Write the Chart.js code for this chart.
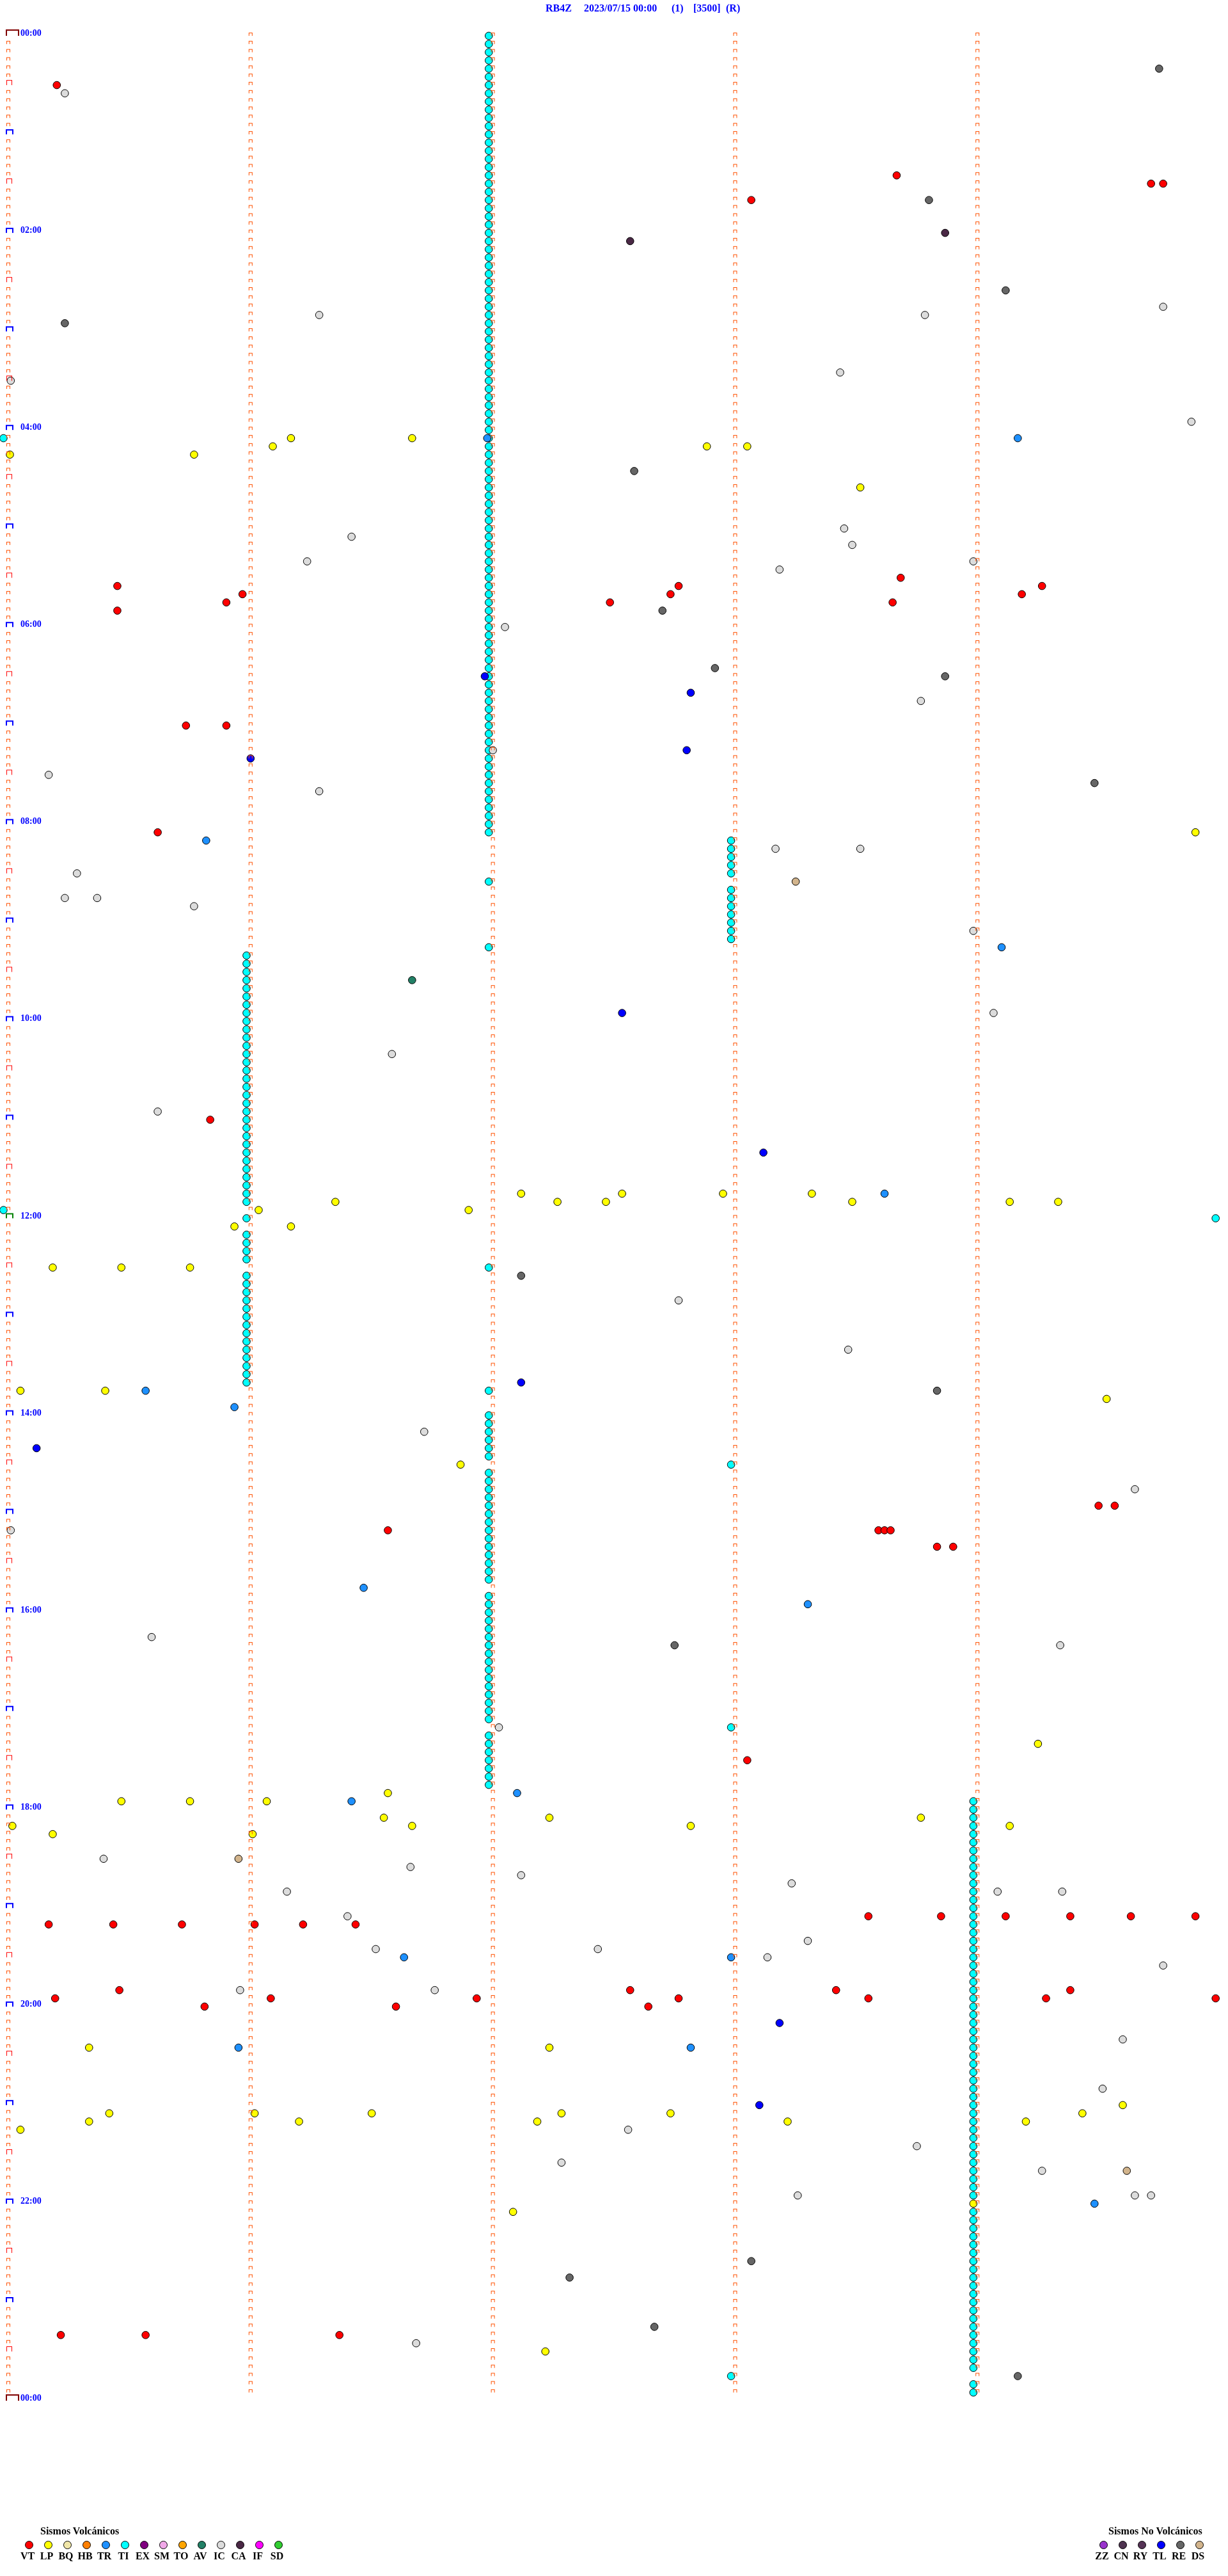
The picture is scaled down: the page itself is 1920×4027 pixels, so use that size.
<!DOCTYPE html>
<html>
<head>
<meta charset="utf-8">
<title>RB4Z 2023/07/15</title>
<script src="https://cdn.jsdelivr.net/npm/chart.js@4.4.1/dist/chart.umd.min.js"></script>
<style>
  body { margin: 0; background: #fff; }
  #wrap { position: relative; width: 1920px; height: 4027px; overflow: hidden; }
  #heli { position: absolute; left: 0; top: 0; }
  .ttl { position: absolute; top: 5px; font: bold 16px "Times New Roman", "Liberation Serif", serif; line-height: 16px; color: #0000ff; white-space: pre; }
  .lg-title { position: absolute; font: bold 16px "Times New Roman", "Liberation Serif", serif; line-height: 16px; color: #000; white-space: pre; }
  .lg-dot { position: absolute; width: 11px; height: 11px; border: 1px solid #000; border-radius: 50%; }
  .lg-lab { position: absolute; width: 40px; text-align: center; font: bold 16px "Times New Roman", "Liberation Serif", serif; line-height: 16px; color: #000; }
</style>
</head>
<body>
<div id="wrap">
  <canvas id="heli" width="1920" height="4027"></canvas>
  <span class="ttl" style="left:853px">RB4Z</span>
  <span class="ttl" style="left:913px">2023/07/15 00:00</span>
  <span class="ttl" style="left:1050px">(1)</span>
  <span class="ttl" style="left:1084px">[3500]</span>
  <span class="ttl" style="left:1135px">(R)</span>
  <div class="lg-title" style="left:63px;top:3949px">Sismos Volcánicos</div>
  <div class="lg-title" style="left:1733px;top:3949px">Sismos No Volcánicos</div>
</div>
<script>
// helicorder: 288 lines of 5 minutes each, x = seconds into the line
const ROWS = 288;
const MARK_SECS = [0, 60, 120, 180, 240];
const LABEL_ROWS = [0, 24, 48, 72, 96, 120, 144, 168, 192, 216, 240, 264, 288];
const LABELS = ["00:00", "02:00", "04:00", "06:00", "08:00", "10:00", "12:00",
                "14:00", "16:00", "18:00", "20:00", "22:00", "00:00"];

// events as [line, seconds]
const VT = [[6,12],[17,220],[18,283],[18,286],[20,184],
  [66,221],[67,27],[67,166],[67,256],[68,58],[68,164],[68,251],[69,54],[69,149],[69,219],[70,27],
  [84,44],[84,54],[97,37],[132,50],
  [179,270],[179,274],[182,94],[182,215.5],[182,217],[182,218.5],[184,230],[184,234],[210,183],
  [229,213],[229,231],[229,247],[229,263],[229,278],[229,294],
  [230,10],[230,26],[230,43],[230,61],[230,73],[230,86],
  [238,27.5],[238,154],[238,205],[238,263],
  [239,11.6],[239,65],[239,116],[239,166],[239,213],[239,257],[239,299],
  [240,48.6],[240,96],[240,158.5],
  [280,13],[280,34],[280,82]];
const LP = [[49,70],[49,100],[50,65.5],[50,173],[50,183],[51,0.4],[51,46],[55,211],[97,294],
  [141,127],[141,152],[141,177],[141,199],
  [142,81],[142,136],[142,148],[142,209],[142,248],[142,260],
  [143,62],[143,114],[145,56],[145,70],[150,11],[150,28],[150,45],
  [165,3],[165,24],[166,272],[174,112],
  [208,255],[214,94],[215,28],[215,45],[215,64],
  [217,93],[217,134],[217,226],[218,1],[218,100],[218,169],[218,248],[219,11],[219,60.5],
  [245,20],[245,134],[252,276],
  [253,25],[253,61],[253,90],[253,137],[253,164],[253,266],
  [254,20],[254,72],[254,131],[254,193],[254,252],[255,3],
  [264,239],[265,125],[282,133]];
const TR = [[49,118.6],[49,250],[98,49],[111,246],[141,217],[165,34],[167,56],[189,88],[191,198],
  [214,126],[215,85],[234,98],[234,179],[245,57],[245,169],[264,269]];
const AV = [[115,100]];
const IC = [[7,14],[33,286],[34,227],[34,77],[41,206],[42,0.6],[47,293],
  [60,207],[61,85],[62,209],[64,74],[64,239],[65,191],[72,123],[81,226],[87,120],[90,10],[92,77],
  [99,190],[99,211],[102,17],[105,14],[105,22],[106,46],[109,239],
  [119,244],[124,95],[131,37],[154,166],[160,208],[170,103],[177,279],[182,0.6],
  [195,35.5],[196,260.5],[206,121.5],
  [222,23.6],[223,99.6],[224,127],[225,194],[226,69],[226,245],[226,261],
  [229,84],[232,198],[233,91],[233,146],[234,188],[235,286],[238,57.4],[238,105.6],
  [244,276],[250,271],[255,153.5],[257,225],[259,137],[260,256],[263,195.5],[263,279],[263,283],
  [281,101]];
const CA = [[24,232],[25,154]];
const TL = [[78,118],[80,169],[87,168],[88,60],[119,152],[136,187],[164,127],[172,7],[242,191],[252,186]];
const RE = [[4,285],[20,228],[31,247],[35,14],[53,155],[70,162],[77,175],[78,232],[91,269],
  [151,127],[165,230],[196,165],[271,184],[273,139],[279,160],[285,250]];
const DS = [[103,195],[222,57],[260,277]];

// tremor (TI) lines, grouped by the second where each run sits
const TI_A_SEC = 119;
const TI_A_ROWS = [0,1,2,3,4,5,6,7,8,9,10,11,12,13,14,15,16,17,18,19,20,21,22,23,24,25,26,27,28,29,
  30,31,32,33,34,35,36,37,38,39,40,41,42,43,44,45,46,47,48,49,50,51,52,53,54,55,56,57,58,59,
  60,61,62,63,64,65,66,67,68,69,70,71,72,73,74,75,76,77,78,79,80,81,82,83,84,85,86,87,88,89,
  90,91,92,93,94,95,96,97,103,111,150,165,168,169,170,171,172,173,
  175,176,177,178,179,180,181,182,183,184,185,186,187,188,
  190,191,192,193,194,195,196,197,198,199,200,201,202,203,204,205,207,208,209,210,211,212,213];
const TI_B_SEC = 59;
const TI_B_ROWS = [112,113,114,115,116,117,118,119,120,121,122,123,124,125,126,127,128,129,130,
  131,132,133,134,135,136,137,138,139,140,141,142,144,146,147,148,149,
  151,152,153,154,155,156,157,158,159,160,161,162,163,164];
const TI_C_SEC = 179;
const TI_C_ROWS = [98,99,100,101,102,104,105,106,107,108,109,110,174,206,285];
const TI_D_SEC = 239;
const TI_D_ROWS = [215,216,217,218,219,220,221,222,223,224,225,226,227,228,229,230,231,232,233,
  234,235,236,237,238,239,240,241,242,243,244,245,246,247,248,249,250,251,252,253,254,255,256,
  257,258,259,260,261,262,263,265,266,267,268,269,270,271,272,273,274,275,276,277,278,279,280,
  281,282,283,284,286,287];
const TI_EDGE = [[49,-1.2],[143,-1.2],[144,299]];

const VOLC_CODES = ["VT","LP","BQ","HB","TR","TI","EX","SM","TO","AV","IC","CA","IF","SD"];
const VOLC_COLORS = ["#FF0000","#FFFF00","#F0E6A8","#FF8000","#1E90FF","#00FFFF","#800080",
                     "#F0A8E8","#FFA500","#228066","#DCDCDC","#4A2845","#FF00FF","#32CD32"];
const NONV_CODES = ["ZZ","CN","RY","TL","RE","DS"];
const NONV_COLORS = ["#9933CC","#4E3350","#553355","#0000FF","#666666","#D2B48C"];

const colorOf = code => {
  const i = VOLC_CODES.indexOf(code);
  return i >= 0 ? VOLC_COLORS[i] : NONV_COLORS[NONV_CODES.indexOf(code)];
};
const pts = list => list.map(([r, s]) => ({ x: s, y: r }));
const run = (rows, sec) => rows.map(r => ({ x: sec, y: r }));

// small "⊓" tick marks of the helicorder
function makeMark(w, h, lw, color, lead) {
  const c = document.createElement("canvas");
  const half = w + lead + 2;
  c.width = half * 2;
  c.height = (h + 2) * 2;
  const g = c.getContext("2d");
  const x0 = half - lead, y0 = c.height / 2 - h;
  g.fillStyle = color;
  g.fillRect(x0, y0, w, lw);
  g.fillRect(x0, y0, lw, h);
  g.fillRect(x0 + w - lw, y0, lw, h);
  return c;
}
const markPlain = makeMark(6, 5, 1, "#FF5000", 3);
const markHalf = makeMark(9, 8, 1, "#FF0000", 3);
const markHour = makeMark(12, 8, 2, "#0000FF", 4);
const markNoon = makeMark(12, 8, 2, "#008000", 4);
const markDay = makeMark(21, 10, 2, "#800000", 4);

const plain = [], half = [], hour = [], noon = [], day = [];
for (let r = 0; r <= ROWS; r++) {
  MARK_SECS.forEach(s => {
    if (s === 0) {
      if (r === 0 || r === ROWS) day.push({ x: s, y: r });
      else if (r === ROWS / 2) noon.push({ x: s, y: r });
      else if (r % 12 === 0) hour.push({ x: s, y: r });
      else if (r % 6 === 0) half.push({ x: s, y: r });
      else plain.push({ x: s, y: r });
    } else if (r < ROWS) {
      plain.push({ x: s, y: r });
    }
  });
}

const markSet = (data, img) => ({
  data, pointStyle: img, radius: 5, hoverRadius: 5, order: 0, clip: false
});
const evSet = (code, data, order) => ({
  label: code, data,
  pointStyle: "circle", radius: 5.8, hoverRadius: 12,
  backgroundColor: colorOf(code), borderColor: "#000000", borderWidth: 1,
  order: order, clip: false
});

const timeLabels = {
  id: "timeLabels",
  afterDatasetsDraw(chart) {
    const { ctx, scales: { x, y } } = chart;
    ctx.save();
    ctx.font = 'bold 14px "Times New Roman", "Liberation Serif", serif';
    ctx.fillStyle = "#0000FF";
    ctx.textBaseline = "alphabetic";
    LABEL_ROWS.forEach((r, i) => {
      ctx.fillText(LABELS[i], x.getPixelForValue(0) + 19, y.getPixelForValue(r));
    });
    ctx.restore();
  }
};

new Chart(document.getElementById("heli"), {
  type: "scatter",
  data: {
    datasets: [
      markSet(plain, markPlain),
      markSet(half, markHalf),
      markSet(hour, markHour),
      markSet(noon, markNoon),
      markSet(day, markDay),
      evSet("VT", pts(VT), 1),
      evSet("LP", pts(LP), 1),
      evSet("TR", pts(TR), 1),
      evSet("AV", pts(AV), 1),
      evSet("IC", pts(IC), 1),
      evSet("CA", pts(CA), 1),
      evSet("TL", pts(TL), 1),
      evSet("RE", pts(RE), 1),
      evSet("DS", pts(DS), 1),
      evSet("TI", run(TI_A_ROWS, TI_A_SEC)
        .concat(run(TI_B_ROWS, TI_B_SEC), run(TI_C_ROWS, TI_C_SEC), run(TI_D_ROWS, TI_D_SEC), pts(TI_EDGE)), 2)
    ]
  },
  options: {
    responsive: false,
    animation: false,
    devicePixelRatio: 1,
    events: [],
    layout: { padding: { left: 13, right: 7, top: 56, bottom: 274 } },
    plugins: { legend: { display: false }, tooltip: { enabled: false } },
    scales: {
      x: { type: "linear", min: 0, max: 300, display: false },
      y: { type: "linear", min: 0, max: ROWS, reverse: true, display: false }
    }
  },
  plugins: [timeLabels]
});

// legend rows under the chart
const wrap = document.getElementById("wrap");
function legendRow(codes, colors, firstX) {
  codes.forEach((code, i) => {
    const cx = firstX + 30 * i;
    const dot = document.createElement("div");
    dot.className = "lg-dot";
    dot.style.left = (cx - 6.5) + "px";
    dot.style.top = (3978 - 6.5) + "px";
    dot.style.background = colors[i];
    wrap.appendChild(dot);
    const lab = document.createElement("div");
    lab.className = "lg-lab";
    lab.textContent = code;
    lab.style.left = (cx - 22) + "px";
    lab.style.top = "3988px";
    wrap.appendChild(lab);
  });
}
legendRow(VOLC_CODES, VOLC_COLORS, 45);
legendRow(NONV_CODES, NONV_COLORS, 1725);
</script>
</body>
</html>
